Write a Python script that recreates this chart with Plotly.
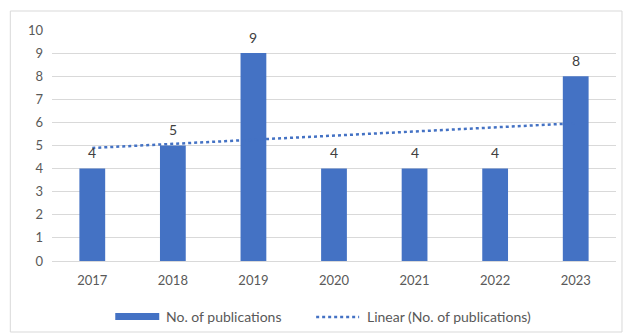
import numpy as np
import plotly.graph_objects as go

years = ["2017", "2018", "2019", "2020", "2021", "2022", "2023"]
publications = [4, 5, 9, 4, 4, 4, 8]
y_ticks = [0, 1, 2, 3, 4, 5, 6, 7, 8, 9, 10]

BLUE = "#4472C4"
TEXT = "#595959"
FONT = "Lato"

# linear trendline fitted to the data (as Excel's "Linear" trendline)
xi = np.arange(len(publications))
slope, intercept = np.polyfit(xi, publications, 1)
trend = [intercept + slope * i for i in xi]

fig = go.Figure()
fig.add_trace(go.Scatter(
    x=years, y=trend, mode="lines",
    line=dict(color=BLUE, width=2.5, dash="dot"),
    name="Linear (No. of publications)", hoverinfo="skip", showlegend=False,
))
fig.add_trace(go.Bar(
    x=years, y=publications, marker=dict(color=BLUE, line=dict(width=0)),
    name="No. of publications", showlegend=False,
))

W, H = 626, 335
L, R, T, B = 51.7, 10, 30, 74
pw = W - L - R
ph = H - T - B


def px_x(p):
    return (p - L) / pw


def px_y(p):
    return (H - B - p) / ph


shapes = [
    # outer chart border
    dict(type="rect", xref="paper", yref="paper",
         x0=px_x(10), x1=px_x(622), y0=px_y(332), y1=px_y(11),
         line=dict(color="#d9d9d9", width=1), fillcolor="rgba(0,0,0,0)", layer="below"),
    # legend symbols
    dict(type="rect", xref="paper", yref="paper",
         x0=px_x(115), x1=px_x(159), y0=px_y(320), y1=px_y(313),
         line=dict(width=0), fillcolor=BLUE),
    dict(type="line", xref="paper", yref="paper",
         x0=px_x(316), x1=px_x(359), y0=px_y(317), y1=px_y(317),
         line=dict(color=BLUE, width=2.5, dash="dot")),
]
annotations = [
    dict(text="No. of publications", xref="paper", yref="paper",
         x=px_x(164), y=px_y(316), xanchor="left", yanchor="middle", showarrow=False,
         font=dict(family=FONT, size=14, color=TEXT)),
    dict(text="Linear (No. of publications)", xref="paper", yref="paper",
         x=px_x(365), y=px_y(316), xanchor="left", yanchor="middle", showarrow=False,
         font=dict(family=FONT, size=14, color=TEXT)),
]
# data labels above bars (category index positions)
for i, v in enumerate(publications):
    annotations.append(dict(
        text=str(v), x=i, y=v, xref="x", yref="y", showarrow=False,
        yanchor="middle", yshift=16,
        font=dict(family=FONT, size=14, color="#404040"),
    ))

fig.update_layout(
    width=W, height=H,
    margin=dict(l=L, r=R, t=T, b=B, autoexpand=False),
    paper_bgcolor="white", plot_bgcolor="white",
    bargap=0.68,
    font=dict(family=FONT, size=13, color=TEXT),
    shapes=shapes, annotations=annotations,
    xaxis=dict(type="category", showgrid=False, showline=False, ticks="",
               tickfont=dict(family=FONT, size=13, color=TEXT), ticklabelstandoff=10),
    yaxis=dict(range=[0, 10], tickvals=y_ticks, showgrid=True, gridcolor="#d9d9d9",
               gridwidth=1, zeroline=True, zerolinecolor="#d9d9d9", zerolinewidth=1,
               showline=False, ticks="", tickfont=dict(family=FONT, size=13, color=TEXT),
               ticklabelstandoff=8),
)

fig.write_html("out.html")
